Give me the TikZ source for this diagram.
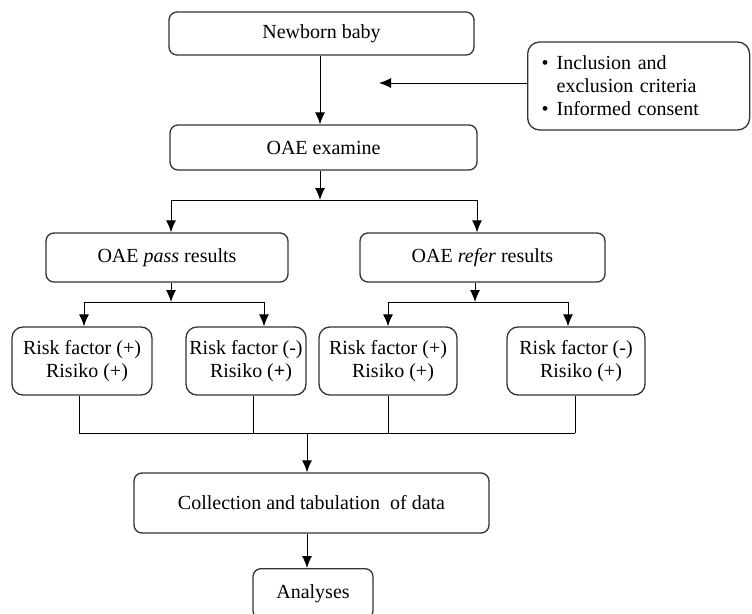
\documentclass[tikz,border=0pt]{standalone}
\usepackage{fontspec}
\setmainfont{Liberation Serif}
\usetikzlibrary{arrows.meta}
\begin{document}
\begin{tikzpicture}[x=1pt,y=-1pt,
  box/.style={draw=black!80, line width=1.3pt, rounded corners=8pt, inner sep=0pt,
    font=\fontsize{20}{23}\selectfont, align=center},
  rbox/.style={box, rounded corners=11pt, minimum height=68pt},
  arr/.style={-{Latex[length=12pt,width=10pt]}, line width=1pt},
  ln/.style={line width=1pt}]
\useasboundingbox (0,0) rectangle (752,613);
\clip (0,0) rectangle (752,613);
\fill[white] (0,0) rectangle (752,613);

% nodes
\node[box, minimum width=305pt, minimum height=43pt] (n1) at (321.5,33.5) {Newborn baby};
\node[box, anchor=west, text width=194pt, inner xsep=14pt, minimum height=88pt,
  align=left, rounded corners=12pt] (incl) at (527,86)
  {\makebox[15pt][l]{\textbullet}Inclusion and\\
   \hspace*{15pt}exclusion criteria\\
   \makebox[15pt][l]{\textbullet}Informed consent};
\node[box, minimum width=307pt, minimum height=45pt] (n2) at (323.5,147.5) {OAE examine};
\node[box, minimum width=242pt, minimum height=49pt] (pass) at (167,257.5) {OAE \textit{pass} results};
\node[box, minimum width=245pt, minimum height=49pt] (refer) at (482.5,257.5) {OAE \textit{refer} results};
\node[rbox, minimum width=140pt] (r1) at (82,361) {Risk factor (+)\\\hspace*{10pt}Risiko (+)};
\node[rbox, minimum width=120pt] (r2) at (246,361) {Risk factor (-)\\\hspace*{10pt}Risiko (\textbf{+})};
\node[rbox, minimum width=138pt] (r3) at (388,361) {Risk factor (+)\\\hspace*{10pt}Risiko (+)};
\node[rbox, minimum width=138pt] (r4) at (576,361) {Risk factor (-)\\\hspace*{10pt}Risiko (+)};
\node[box, minimum width=355pt, minimum height=60pt] (coll) at (311.5,503) {Collection and tabulation\ \ of data};
\node[box, anchor=north, minimum width=120pt, minimum height=50pt] (anal) at (313,568) {Analyses};

% coordinates for junctions
\coordinate (hx) at (379,83);
\coordinate (s1) at (320,200);
\coordinate (s1l) at (171,200);
\coordinate (s1r) at (477,200);
\coordinate (s2) at (171,302);
\coordinate (s2l) at (84,302);
\coordinate (s2r) at (264,302);
\coordinate (s3) at (475,302);
\coordinate (s3l) at (388,302);
\coordinate (s3r) at (568,302);
\coordinate (b1) at (79,433);
\coordinate (b2) at (253,433);
\coordinate (b3) at (388,433);
\coordinate (b4) at (575,433);
\coordinate (bm) at (307,433);

% connectors
\draw[arr] (n1.south -| s1) -- (s1 |- n2.north);
\draw[arr] (incl.west |- hx) -- (hx);
\draw[arr] (n2.south -| s1) -- (s1);
\draw[ln] (s1l) -- (s1r);
\draw[arr] (s1l) -- (s1l |- pass.north);
\draw[arr] (s1r) -- (s1r |- refer.north);

\draw[arr] (pass.south -| s2) -- (s2);
\draw[ln] (s2l) -- (s2r);
\draw[arr] (s2l) -- (s2l |- r1.north);
\draw[arr] (s2r) -- (s2r |- r2.north);

\draw[arr] (refer.south -| s3) -- (s3);
\draw[ln] (s3l) -- (s3r);
\draw[arr] (s3l) -- (s3l |- r3.north);
\draw[arr] (s3r) -- (s3r |- r4.north);

\draw[ln] (r1.south -| b1) -- (b1);
\draw[ln] (r2.south -| b2) -- (b2);
\draw[ln] (r3.south -| b3) -- (b3);
\draw[ln] (r4.south -| b4) -- (b4);
\draw[ln] (b1) -- (b4);
\draw[arr] (bm) -- (bm |- coll.north);
\draw[arr] (coll.south -| bm) -- (bm |- anal.north);
\end{tikzpicture}
\end{document}
